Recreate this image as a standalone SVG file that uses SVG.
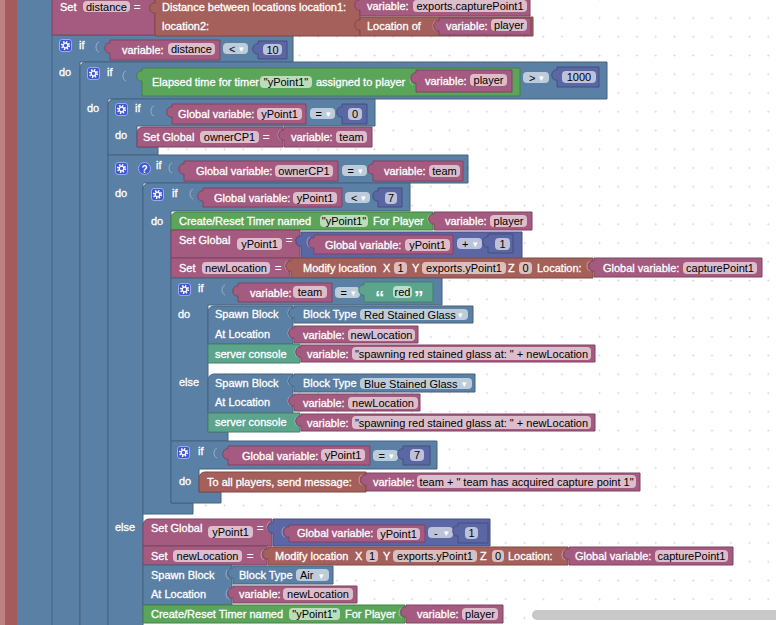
<svg xmlns="http://www.w3.org/2000/svg" xmlns:xlink="http://www.w3.org/1999/xlink" width="776" height="625" viewBox="0 0 776 625">
<defs>
<pattern id="grid" x="8.9" y="8.6" width="18.75" height="18.75" patternUnits="userSpaceOnUse">
<path d="M8.4,9.375H10.35M9.375,8.4V10.35" stroke="#d6d6d6" stroke-width="1"/>
</pattern>
<g id="gear"><rect x="0.5" y="0.5" width="12" height="12" rx="2.5" fill="#3f55d4" stroke="#9aaaf5" stroke-width="1"/><circle cx="6.5" cy="6.5" r="3.6" fill="none" stroke="#fff" stroke-width="2" stroke-dasharray="1.4 1.43"/><circle cx="6.5" cy="6.5" r="2.3" fill="none" stroke="#fff" stroke-width="1.3"/></g>
<style>
.m{fill:#a55b80;stroke:#7e4563;stroke-width:1}
.b{fill:#5b80a5;stroke:#46637f;stroke-width:1}
.r{fill:#a5605b;stroke:#7e4945;stroke-width:1}
.g{fill:#5ba55b;stroke:#467e46;stroke-width:1}
.tl{fill:#5ba58c;stroke:#467e6b;stroke-width:1}
.n{fill:#5b67a5;stroke:#464f7e;stroke-width:1}
.p{fill:#fff;fill-opacity:.6}
.h{fill:none;stroke:#fff;stroke-opacity:.35;stroke-width:1}
text{font-family:"Liberation Sans",Arial,Helvetica,sans-serif;font-size:11px;fill:#fff;stroke:#fff;stroke-width:.3}
.f{fill:#000;stroke:none;text-anchor:middle}
.fd{fill:#000;stroke:none}
.ar{fill:#fff;stroke:none;font-size:9px}
.q{font-size:19px;font-weight:bold;stroke:none}
</style>
</defs>
<rect width="776" height="625" fill="#fff"/>
<rect width="776" height="625" fill="url(#grid)"/>

<g id="outer-red"><rect x="0" y="0" width="17" height="625" fill="#a55b5b"/><rect x="0" y="0" width="5" height="625" fill="#bf8282"/></g>
<g id="outer-blue"><rect x="17" y="0" width="35" height="625" fill="#5b80a5"/></g>

<g id="if-distance">
<path class="b" d="M52,35H293V62H80V630H52Z"/>
<use xlink:href="#gear" x="59" y="39"/>
<text x="79" y="49">if</text>
<path class="h" d="M99,42C95,43 95,51 99,52"/>
<path class="m" d="M110,40H220V60H110V53C103,54 103,42 110,43Z"/>
<text x="122" y="53.5">variable:</text>
<rect class="p" x="168" y="43" width="47" height="12" rx="4"/><text class="f" x="191.5" y="53">distance</text>
<rect class="p" x="223" y="43" width="25" height="11" rx="4"/><text class="fd" x="229" y="52.5">&lt;</text><text class="ar" x="239" y="52">▾</text>
<path class="n" d="M258,41H287V59H258V54C251,55 251,43 258,44Z"/>
<rect class="p" x="263" y="44" width="19" height="11" rx="4"/><text class="f" x="272.5" y="53.5">10</text>
<text x="59" y="76">do</text>
</g>

<g id="set-distance">
<path class="m" d="M52,-5H155V35H52Z"/>
<text x="60" y="10.5">Set</text>
<rect class="p" x="83" y="1" width="47" height="11" rx="4"/><text class="f" x="106.5" y="10.5">distance</text>
<text x="134" y="10.5">=</text>
<path class="r" d="M155,-5H360V36H155V13C148,14 148,2 155,3Z"/>
<text x="162" y="10.5">Distance between locations location1:</text>
<text x="162" y="29.5">location2:</text>
<path class="m" d="M360,-3H530V16H360V10C353,11 353,-1 360,0Z"/>
<text x="367" y="10">variable:</text>
<rect class="p" x="413" y="0" width="114" height="12" rx="4"/><text class="f" x="470" y="10">exports.capturePoint1</text>
<path class="r" d="M360,17H533V36H360V30C353,31 353,19 360,20Z"/>
<text x="367" y="29.5">Location of</text>
<path class="h" d="M436,21C432,22 432,30 436,31"/>
<path class="m" d="M439,18H531V35H439V31C432,32 432,20 439,21Z"/>
<text x="446" y="29.5">variable:</text>
<rect class="p" x="491" y="19" width="36" height="12" rx="4"/><text class="f" x="509" y="29">player</text>
</g>

<g id="if-elapsed">
<path class="b" d="M80,68a6,6 0 0 1 6,-6H607V99H108V630H80Z"/>
<use xlink:href="#gear" x="87" y="67"/>
<text x="107" y="76">if</text>
<path class="h" d="M126,71C122,72 122,80 126,81"/>
<path class="g" d="M142,68H520V96H142V81C135,82 135,70 142,71Z"/>
<text x="152" y="86">Elapsed time for timer</text>
<rect class="p" x="260" y="76" width="52" height="12" rx="4"/><text class="f" x="286" y="86">"yPoint1"</text>
<text x="316" y="86">assigned to player</text>
<path class="h" d="M413,75C409,76 409,84 413,85"/>
<path class="m" d="M416,70H512V92H416V83C409,84 409,72 416,73Z"/>
<text x="425" y="84.5">variable:</text>
<rect class="p" x="470" y="74" width="37" height="12" rx="4"/><text class="f" x="488.5" y="84">player</text>
<rect class="p" x="523" y="72" width="26" height="11" rx="4"/><text class="fd" x="529" y="81.5">&gt;</text><text class="ar" x="539" y="81">▾</text>
<path class="n" d="M557,67H599V87H557V80C550,81 550,69 557,70Z"/>
<rect class="p" x="562" y="71" width="34" height="12" rx="4"/><text class="f" x="579" y="81">1000</text>
<text x="87" y="112">do</text>
</g>

<g id="if-ypoint-0">
<path class="b" d="M108,105a6,6 0 0 1 6,-6H375V126H137V147H158V155H108Z"/>
<use xlink:href="#gear" x="115" y="103"/>
<text x="135" y="112">if</text>
<path class="h" d="M154,106C150,107 150,115 154,116"/>
<path class="m" d="M172,104H306V124H172V117C165,118 165,106 172,107Z"/>
<text x="178" y="118">Global variable:</text>
<rect class="p" x="257" y="108" width="45" height="12" rx="4"/><text class="f" x="279.5" y="118">yPoint1</text>
<rect class="p" x="310" y="108" width="25" height="11" rx="4"/><text class="fd" x="315.5" y="117.5">=</text><text class="ar" x="326" y="117">▾</text>
<path class="n" d="M342,104H367V124H342V117C335,118 335,106 342,107Z"/>
<rect class="p" x="348" y="108" width="14" height="12" rx="4"/><text class="f" x="355" y="118">0</text>
<text x="115" y="139">do</text>
</g>

<g id="set-ownercp1">
<path class="m" d="M137,133a6,6 0 0 1 6,-6H283V147H137Z"/>
<text x="143" y="141">Set Global</text>
<rect class="p" x="200" y="131" width="59" height="12" rx="4"/><text class="f" x="229.5" y="141">ownerCP1</text>
<text x="263" y="141">=</text>
<path class="h" d="M281,130C277,131 277,139 281,140"/>
<path class="m" d="M284,127H372V147H284V140C277,141 277,129 284,130Z"/>
<text x="291" y="141">variable:</text>
<rect class="p" x="336" y="131" width="31" height="12" rx="4"/><text class="f" x="351.5" y="141">team</text>
</g>

<g id="if-ownercp1">
<path class="b" d="M108,155H468V183H143V630H108Z"/>
<use xlink:href="#gear" x="115" y="162"/>
<circle cx="144.5" cy="168.5" r="6" fill="#3f55d4" stroke="#9aaaf5" stroke-width="1"/>
<text x="144.5" y="172.5" style="font-size:10px;font-weight:bold;text-anchor:middle;stroke:none">?</text>
<text x="156" y="169">if</text>
<path class="h" d="M172,163C168,164 168,172 172,173"/>
<path class="m" d="M184,161H338V181H184V174C177,175 177,163 184,164Z"/>
<text x="196" y="175">Global variable:</text>
<rect class="p" x="275" y="165" width="58" height="12" rx="4"/><text class="f" x="304" y="175">ownerCP1</text>
<rect class="p" x="342" y="165" width="25" height="11" rx="4"/><text class="fd" x="347.5" y="174.5">=</text><text class="ar" x="358" y="174">▾</text>
<path class="m" d="M373,161H463V181H373V174C366,175 366,163 373,164Z"/>
<text x="384" y="175">variable:</text>
<rect class="p" x="429" y="165" width="31" height="12" rx="4"/><text class="f" x="444.5" y="175">team</text>
<text x="115" y="197">do</text>
<text x="115" y="531">else</text>
</g>

<g id="if-ypoint-lt7">
<path class="b" d="M143,189a6,6 0 0 1 6,-6H410V211H171V503H193V514H143Z"/>
<use xlink:href="#gear" x="151" y="188"/>
<text x="172" y="197">if</text>
<path class="h" d="M193,189C189,190 189,198 193,199"/>
<path class="m" d="M203,188H342V207H203V201C196,202 196,190 203,191Z"/>
<text x="214" y="202">Global variable:</text>
<rect class="p" x="293" y="192" width="44" height="12" rx="4"/><text class="f" x="315" y="202">yPoint1</text>
<rect class="p" x="345" y="192" width="25" height="11" rx="4"/><text class="fd" x="351" y="201.5">&lt;</text><text class="ar" x="361" y="201">▾</text>
<path class="n" d="M378,188H402V207H378V201C371,202 371,190 378,191Z"/>
<rect class="p" x="385" y="192" width="12" height="12" rx="4"/><text class="f" x="391" y="202">7</text>
<text x="151" y="225">do</text>
</g>

<g id="timer-1">
<path class="g" d="M171,218a6,6 0 0 1 6,-6H433V230H171Z"/>
<text x="179" y="225">Create/Reset Timer named</text>
<rect class="p" x="320" y="215" width="48" height="12" rx="4"/><text class="f" x="344" y="225">"yPoint1"</text>
<text x="373" y="225">For Player</text>
<path class="h" d="M431,214C427,215 427,223 431,224"/>
<path class="m" d="M434,212H532V230H434V224C427,225 427,213 434,214Z"/>
<text x="445" y="225">variable:</text>
<rect class="p" x="490" y="215" width="37" height="12" rx="4"/><text class="f" x="508.5" y="225">player</text>
</g>

<g id="set-ypoint-plus">
<path class="m" d="M171,230H300V258H171Z"/>
<text x="179" y="244">Set Global</text>
<rect class="p" x="237" y="238" width="45" height="12" rx="4"/><text class="f" x="259.5" y="248">yPoint1</text>
<text x="286" y="244">=</text>
<path class="n" d="M301,232H522V259H301V246C294,247 294,235 301,236Z"/>
<path class="h" d="M310,237C306,238 306,246 310,247"/>
<path class="m" d="M314,235H453V254H314V248C307,249 307,237 314,238Z"/>
<text x="325" y="248.5">Global variable:</text>
<rect class="p" x="405" y="239" width="45" height="12" rx="4"/><text class="f" x="427.5" y="249">yPoint1</text>
<rect class="p" x="457" y="238" width="25" height="11" rx="4"/><text class="fd" x="462" y="247.5">+</text><text class="ar" x="473" y="247">▾</text>
<path class="n" d="M488,234H513V253H488V247C481,248 481,236 488,237Z"/>
<rect class="p" x="495" y="238" width="15" height="12" rx="4"/><text class="f" x="502.5" y="248">1</text>
</g>

<g id="set-newlocation-1">
<path class="m" d="M171,258H290V278H171Z"/>
<text x="179" y="272">Set</text>
<rect class="p" x="202" y="262" width="68" height="12" rx="4"/><text class="f" x="236" y="272">newLocation</text>
<text x="275" y="272">=</text>
<path class="h" d="M288,261C284,262 284,270 288,271"/>
<path class="r" d="M291,258H593V278H291V271C284,272 284,260 291,261Z"/>
<text x="303" y="272">Modify location</text>
<text x="383" y="272">X</text>
<rect class="p" x="394" y="262" width="13" height="12" rx="4"/><text class="f" x="400.5" y="272">1</text>
<text x="412" y="272">Y</text>
<rect class="p" x="422" y="262" width="84" height="12" rx="4"/><text class="f" x="464" y="272">exports.yPoint1</text>
<text x="508" y="272">Z</text>
<rect class="p" x="519" y="262" width="13" height="12" rx="4"/><text class="f" x="525.5" y="272">0</text>
<text x="537" y="272">Location:</text>
<path class="h" d="M590,261C586,262 586,270 590,271"/>
<path class="m" d="M594,258H762V277H594V271C587,272 587,260 594,261Z"/>
<text x="603" y="272">Global variable:</text>
<rect class="p" x="683" y="262" width="74" height="12" rx="4"/><text class="f" x="720" y="272">capturePoint1</text>
</g>

<g id="if-team-red">
<path class="b" d="M171,278H442V305H208V432H228V441H171Z"/>
<use xlink:href="#gear" x="178" y="283"/>
<text x="198" y="292">if</text>
<path class="h" d="M225,285C221,286 221,294 225,295"/>
<path class="m" d="M238,283H332V302H238V296C231,297 231,285 238,286Z"/>
<text x="250" y="296.5">variable:</text>
<rect class="p" x="293" y="286" width="34" height="12" rx="4"/><text class="f" x="310" y="296">team</text>
<rect class="p" x="335" y="287" width="25" height="11" rx="4"/><text class="fd" x="340.5" y="296.5">=</text><text class="ar" x="351" y="296">▾</text>
<path class="tl" d="M364,282H433V302H364V295C357,296 357,284 364,285Z"/>
<text class="q" x="375" y="304">“</text>
<rect class="p" x="393" y="286" width="19" height="12" rx="4"/><text class="f" x="402.5" y="296">red</text>
<text class="q" x="414" y="304">”</text>
<text x="178" y="318">do</text>
<text x="179" y="386">else</text>
</g>

<g id="spawn-red">
<path class="b" d="M208,312a6,6 0 0 1 6,-6H293V344H208Z"/>
<text x="215" y="318">Spawn Block</text>
<text x="215" y="338">At Location</text>
<path class="h" d="M291,308C287,309 287,317 291,318"/>
<path class="b" d="M294,306H473V323H294V318C287,319 287,307 294,308Z"/>
<text x="303" y="318">Block Type</text>
<rect class="p" x="360" y="309" width="108" height="11" rx="4"/><text class="fd" x="364" y="318.5">Red Stained Glass</text><text class="ar" x="458" y="318">▾</text>
<path class="h" d="M291,328C287,329 287,337 291,338"/>
<path class="m" d="M294,326H418V343H294V338C287,339 287,327 294,328Z"/>
<text x="303" y="339">variable:</text>
<rect class="p" x="348" y="329" width="67" height="12" rx="4"/><text class="f" x="381.5" y="339">newLocation</text>
</g>

<g id="console-1">
<path class="tl" d="M208,344H300V363H208Z"/>
<text x="215" y="357.5">server console</text>
<path class="h" d="M298,347C294,348 294,356 298,357"/>
<path class="m" d="M301,345H595V362H301V357C294,358 294,346 301,347Z"/>
<text x="307" y="357.5">variable:</text>
<rect class="p" x="352" y="347" width="239" height="13" rx="4"/><text class="f" x="471.5" y="357.5">"spawning red stained glass at: " + newLocation</text>
</g>

<g id="spawn-blue">
<path class="b" d="M208,380a6,6 0 0 1 6,-6H293V413H208Z"/>
<text x="215" y="387">Spawn Block</text>
<text x="215" y="406">At Location</text>
<path class="h" d="M291,376C287,377 287,385 291,386"/>
<path class="b" d="M294,374H475V392H294V386C287,387 287,375 294,376Z"/>
<text x="303" y="387">Block Type</text>
<rect class="p" x="360" y="378" width="112" height="11" rx="4"/><text class="fd" x="364" y="387.5">Blue Stained Glass</text><text class="ar" x="462" y="387">▾</text>
<path class="h" d="M291,396C287,397 287,405 291,406"/>
<path class="m" d="M294,394H420V411H294V406C287,407 287,395 294,396Z"/>
<text x="303" y="407">variable:</text>
<rect class="p" x="348" y="397" width="70" height="12" rx="4"/><text class="f" x="383" y="407">newLocation</text>
</g>

<g id="console-2">
<path class="tl" d="M208,413H300V432H208Z"/>
<text x="215" y="426">server console</text>
<path class="h" d="M298,416C294,417 294,425 298,426"/>
<path class="m" d="M301,414H595V431H301V426C294,427 294,415 301,416Z"/>
<text x="307" y="426.5">variable:</text>
<rect class="p" x="352" y="416" width="239" height="13" rx="4"/><text class="f" x="471.5" y="426.5">"spawning red stained glass at: " + newLocation</text>
</g>

<g id="if-ypoint-eq7">
<path class="b" d="M171,441H437V469H199V492H221V503H171Z"/>
<use xlink:href="#gear" x="177" y="446"/>
<text x="198" y="455">if</text>
<path class="h" d="M217,448C213,449 213,457 217,458"/>
<path class="m" d="M228,446H370V465H228V459C221,460 221,448 228,449Z"/>
<text x="242" y="459.5">Global variable:</text>
<rect class="p" x="321" y="449" width="44" height="12" rx="4"/><text class="f" x="343" y="459">yPoint1</text>
<rect class="p" x="373" y="450" width="25" height="11" rx="4"/><text class="fd" x="378.5" y="459.5">=</text><text class="ar" x="389" y="459">▾</text>
<path class="n" d="M403,446H430V465H403V459C396,460 396,448 403,449Z"/>
<rect class="p" x="410" y="449" width="14" height="12" rx="4"/><text class="f" x="417" y="459">7</text>
<text x="179" y="485">do</text>
</g>

<g id="send-message">
<path class="r" d="M199,478a6,6 0 0 1 6,-6H366V492H199Z"/>
<text x="207" y="486">To all players, send message:</text>
<path class="h" d="M362,475C358,476 358,484 362,485"/>
<path class="m" d="M366,473H640V491H366V485C359,486 359,474 366,475Z"/>
<text x="373" y="486">variable:</text>
<rect class="p" x="417" y="475" width="219" height="13" rx="4"/><text class="f" x="526.5" y="485.5">team + " team has acquired capture point 1"</text>
</g>

<g id="set-ypoint-minus">
<path class="m" d="M143,525a6,6 0 0 1 6,-6H272V546H143Z"/>
<text x="151" y="532">Set Global</text>
<rect class="p" x="208" y="526" width="45" height="12" rx="4"/><text class="f" x="230.5" y="536">yPoint1</text>
<text x="257" y="532">=</text>
<path class="h" d="M270,522C266,523 266,531 270,532"/>
<path class="n" d="M273,519H490V546H273V533C266,534 266,522 273,523Z"/>
<path class="h" d="M285,527C281,528 281,536 285,537"/>
<path class="m" d="M289,525H425V542H289V537C282,538 282,526 289,527Z"/>
<text x="297" y="537">Global variable:</text>
<rect class="p" x="377" y="528" width="43" height="12" rx="4"/><text class="f" x="398.5" y="538">yPoint1</text>
<rect class="p" x="428" y="527" width="25" height="11" rx="4"/><text class="fd" x="434" y="536.5">-</text><text class="ar" x="444" y="536">▾</text>
<path class="n" d="M458,523H488V543H458V536C451,537 451,525 458,526Z"/>
<rect class="p" x="465" y="527" width="13" height="12" rx="4"/><text class="f" x="471.5" y="537">1</text>
</g>

<g id="set-newlocation-2">
<path class="m" d="M143,546H267V565H143Z"/>
<text x="151" y="560">Set</text>
<rect class="p" x="173" y="550" width="69" height="12" rx="4"/><text class="f" x="207.5" y="560">newLocation</text>
<text x="247" y="560">=</text>
<path class="h" d="M264,550C260,551 260,559 264,560"/>
<path class="r" d="M268,547H568V565H268V559C261,560 261,548 268,549Z"/>
<text x="275" y="560">Modify location</text>
<text x="355" y="560">X</text>
<rect class="p" x="366" y="550" width="12" height="12" rx="4"/><text class="f" x="372" y="560">1</text>
<text x="383" y="560">Y</text>
<rect class="p" x="393" y="550" width="84" height="12" rx="4"/><text class="f" x="435" y="560">exports.yPoint1</text>
<text x="480" y="560">Z</text>
<rect class="p" x="492" y="550" width="12" height="12" rx="4"/><text class="f" x="498" y="560">0</text>
<text x="508" y="560">Location:</text>
<path class="h" d="M565,550C561,551 561,559 565,560"/>
<path class="m" d="M569,547H733V565H569V559C562,560 562,548 569,549Z"/>
<text x="575" y="560">Global variable:</text>
<rect class="p" x="655" y="550" width="73" height="12" rx="4"/><text class="f" x="691.5" y="560">capturePoint1</text>
</g>

<g id="spawn-air">
<path class="b" d="M143,565H232V605H143Z"/>
<text x="151" y="579">Spawn Block</text>
<text x="151" y="598">At Location</text>
<path class="h" d="M229,569C225,570 225,578 229,579"/>
<path class="b" d="M233,566H333V584H233V578C226,579 226,567 233,568Z"/>
<text x="239" y="579">Block Type</text>
<rect class="p" x="296" y="569" width="33" height="12" rx="4"/><text class="fd" x="300" y="579">Air</text><text class="ar" x="319" y="578.5">▾</text>
<path class="h" d="M229,589C225,590 225,598 229,599"/>
<path class="m" d="M233,586H357V603H233V598C226,599 226,587 233,588Z"/>
<text x="239" y="598">variable:</text>
<rect class="p" x="283" y="588" width="70" height="12" rx="4"/><text class="f" x="318" y="598">newLocation</text>
</g>

<g id="timer-2">
<path class="g" d="M143,605H405V623H143Z"/>
<text x="151" y="618">Create/Reset Timer named</text>
<rect class="p" x="289" y="608" width="51" height="12" rx="4"/><text class="f" x="314.5" y="618">"yPoint1"</text>
<text x="345" y="618">For Player</text>
<path class="h" d="M402,608C398,609 398,617 402,618"/>
<path class="m" d="M406,605H503V623H406V617C399,618 399,606 406,607Z"/>
<text x="417" y="618">variable:</text>
<rect class="p" x="462" y="608" width="36" height="12" rx="4"/><text class="f" x="480" y="618">player</text>
</g>

<g id="scrollbar"><rect x="532" y="610" width="250" height="10" rx="5" fill="#c8c8c8"/></g>
</svg>
